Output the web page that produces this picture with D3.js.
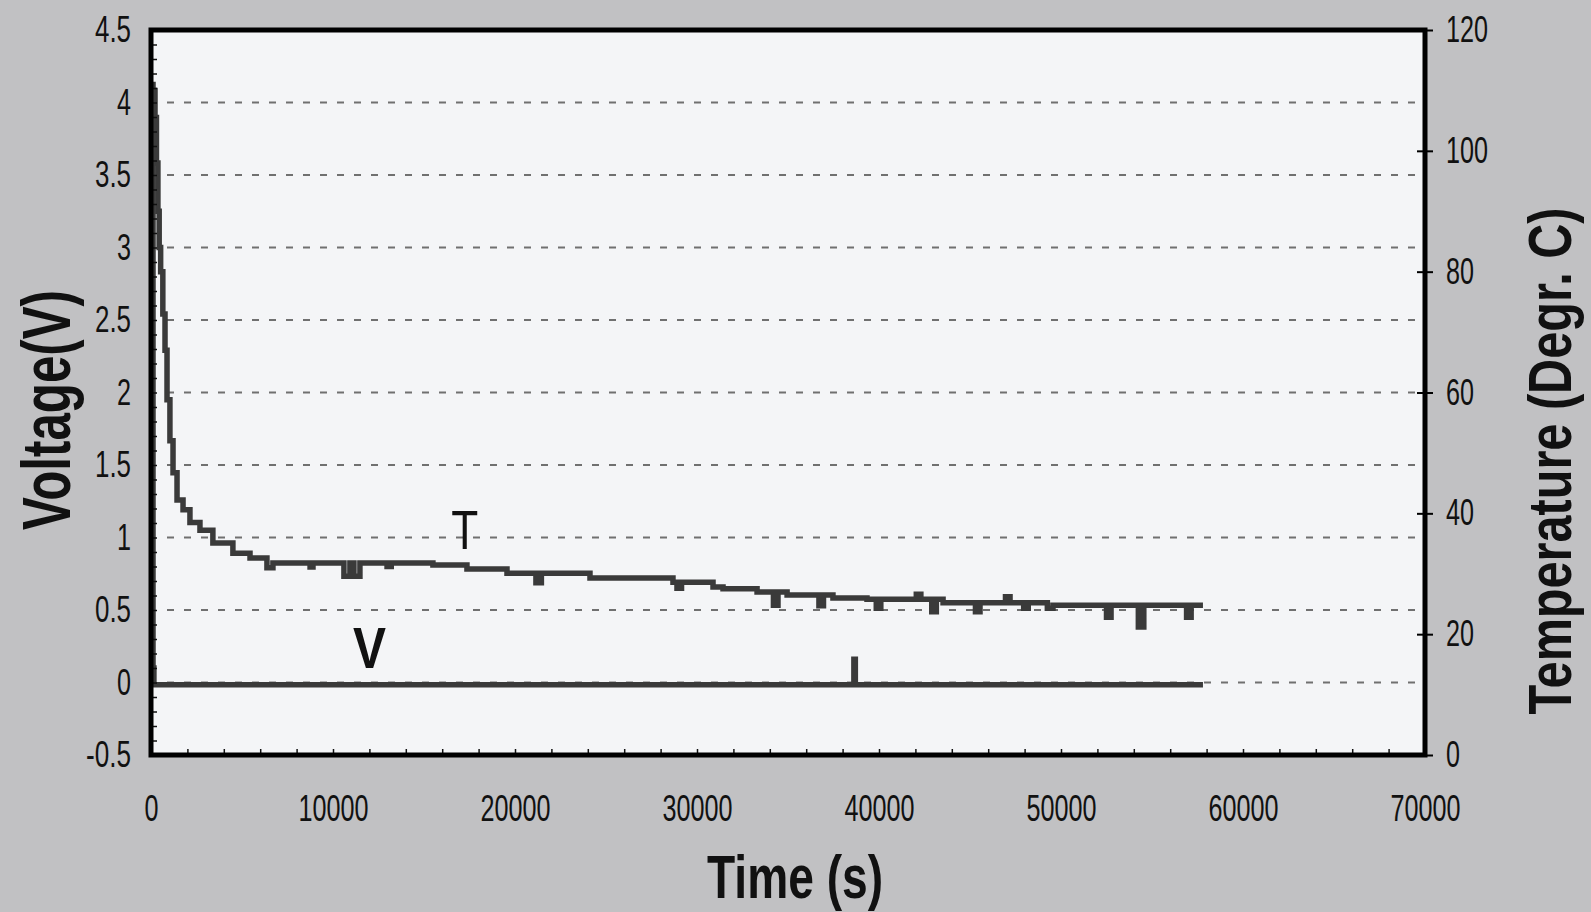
<!DOCTYPE html>
<html>
<head>
<meta charset="utf-8">
<script src="https://cdn.jsdelivr.net/npm/d3@7"></script>
<style>
  body { margin: 0; background: #c1c1c3; }
  svg { display: block; }
</style>
</head>
<body>
<div id="container"></div>
<script>
/* global d3*/

const width = 1591;
const height = 912;
const plotLeft = 151;
const plotRight = 1425;
const plotTop = 30;
const plotBottom = 755;

// temperature trace "T" (time in s, degr. C)
const timeT = [0, 110, 220, 300, 380, 450, 530, 650, 770, 880, 1040, 1210, 1430,
  1760, 2140, 2690, 3400, 4500, 5440, 6370, 6700, 8740, 8900, 10600, 10930,
  11150, 11480, 12970, 13200, 15490, 17360, 19560, 21150, 21450, 24120, 28680,
  28900, 29150, 30880, 31430, 33300, 34200, 34450, 34950, 36700, 36950, 37470,
  39340, 39850, 40100, 42050, 42300, 42900, 43150, 43520, 45300, 45550, 46950,
  47200, 47950, 48200, 49250, 49560, 52500, 52750, 54250, 54550, 56900, 57150,
  57800];
const tempT = [111, 110, 105.5, 98, 90, 84, 80, 73, 67, 58.8, 52, 46.7, 42.2,
  40.6, 38.5, 37.2, 35.1, 33.4, 32.6, 31, 31.8, 31.1, 31.8, 29.6, 31.8,
  29.6, 31.8, 31.2, 31.8, 31.45, 30.8, 30.1, 28.5, 30.1, 29.3, 28.6,
  27.6, 28.6, 27.8, 27.5, 27, 24.8, 27, 26.5, 24.7, 26.5, 26,
  25.8, 24.3, 25.8, 26.6, 25.8, 23.7, 25.8, 25.2, 23.7, 25.2, 26.2,
  25.2, 24.3, 25.2, 24.3, 24.8, 22.8, 24.8, 21.2, 24.8, 22.8, 24.8,
  24.8];

// voltage trace "V" (time in s, volts)
const timeV = [0, 60, 110, 160, 38550, 38620, 38700, 57800];
const voltV = [4.1, 4.0, 0.1, -0.015, -0.015, 0.16, -0.015, -0.015];

// tick labels
const xTicks = [0, 10000, 20000, 30000, 40000, 50000, 60000, 70000];
const voltTicks = [-0.5, 0, 0.5, 1, 1.5, 2, 2.5, 3, 3.5, 4, 4.5];
const tempTicks = [0, 20, 40, 60, 80, 100, 120];
const gridVolts = [0, 0.5, 1, 1.5, 2, 2.5, 3, 3.5, 4];

const narrow = "'Liberation Sans Narrow', 'Arial Narrow', 'Liberation Sans', Arial, sans-serif";
const ink = "#3a3a3a";

// width of a condensed tick label
const labelWidth = (s) =>
  [...s].reduce((w, c) => w + (c === "." ? 8 : c === "-" ? 9 : 14), 0);

//create svg
const svg = d3
  .select("#container")
  .append("svg")
  .attr("width", width)
  .attr("height", height);

svg.append("rect")
  .attr("width", width)
  .attr("height", height)
  .attr("fill", "#c1c1c3");

const xScale = d3.scaleLinear([0, 70000], [plotLeft, plotRight]);
const yVolt = d3.scaleLinear([-0.5, 4.5], [plotBottom, plotTop]);
const yTemp = d3.scaleLinear([0, 120], [plotBottom, plotTop]);

// plot area
svg.append("rect")
  .attr("x", plotLeft)
  .attr("y", plotTop)
  .attr("width", plotRight - plotLeft)
  .attr("height", plotBottom - plotTop)
  .attr("fill", "#f4f5f7");

// dashed gridlines on the voltage axis
svg.append("g")
  .selectAll("line")
  .data(gridVolts)
  .join("line")
  .attr("x1", plotLeft + 16)
  .attr("x2", plotRight - 4)
  .attr("y1", (d) => yVolt(d))
  .attr("y2", (d) => yVolt(d))
  .attr("stroke", "#707070")
  .attr("stroke-width", 1.8)
  .attr("stroke-dasharray", "7,10");

// traces - stepped like the logger plot
const lineT = d3.line()
  .x((d) => xScale(d[0]))
  .y((d) => yTemp(d[1]))
  .curve(d3.curveStepAfter);
const lineV = d3.line()
  .x((d) => xScale(d[0]))
  .y((d) => yVolt(d[1]))
  .curve(d3.curveStepAfter);

svg.append("path")
  .datum(d3.zip(timeV, voltV))
  .attr("d", lineV)
  .attr("fill", "none")
  .attr("stroke", ink)
  .attr("stroke-width", 5.5);

svg.append("path")
  .datum(d3.zip(timeT, tempT))
  .attr("d", lineT)
  .attr("fill", "none")
  .attr("stroke", ink)
  .attr("stroke-width", 5.5);

// minor ticks, pointing inwards
const minorLeft = svg.append("g")
  .attr("transform", `translate(${plotLeft},0)`)
  .call(d3.axisLeft(yVolt).tickValues(d3.range(-0.4, 4.45, 0.1)).tickSize(-6).tickFormat(""));
const minorBottom = svg.append("g")
  .attr("transform", `translate(0,${plotBottom})`)
  .call(d3.axisBottom(xScale).tickValues(d3.range(2000, 70000, 2000)).tickSize(-6).tickFormat(""));
[minorLeft, minorBottom].forEach((g) => {
  g.select(".domain").remove();
  g.selectAll("line").attr("stroke", "#111").attr("stroke-width", 1.5);
});

// frame
svg.append("rect")
  .attr("x", plotLeft)
  .attr("y", plotTop)
  .attr("width", plotRight - plotLeft)
  .attr("height", plotBottom - plotTop)
  .attr("fill", "none")
  .attr("stroke", "#000")
  .attr("stroke-width", 5);

// left axis labels (voltage)
const yAx = svg.append("g")
  .attr("transform", `translate(${plotLeft},0)`)
  .call(d3.axisLeft(yVolt).tickValues(voltTicks).tickSize(0).tickPadding(20)
    .tickFormat((d) => String(d)));

// bottom axis labels (time)
const xAx = svg.append("g")
  .attr("transform", `translate(0,${plotBottom})`)
  .call(d3.axisBottom(xScale).tickValues(xTicks).tickSize(0).tickPadding(40)
    .tickFormat((d) => String(d)));

// right axis (temperature), ticks cross the frame
const tAx = svg.append("g")
  .attr("transform", `translate(${plotRight},0)`)
  .call(d3.axisRight(yTemp).tickValues(tempTicks).tickSize(8).tickPadding(13)
    .tickFormat((d) => String(d)));
tAx.selectAll("line").attr("x1", -8).attr("stroke", "#000").attr("stroke-width", 2);

[yAx, xAx, tAx].forEach((g) => {
  g.select(".domain").remove();
  g.selectAll("text")
    .attr("fill", "#111")
    .style("font-family", narrow)
    .style("font-size", "36px")
    .attr("textLength", function () { return labelWidth(this.textContent); })
    .attr("lengthAdjust", "spacingAndGlyphs");
});

// axis titles
svg.append("text")
  .attr("transform", `translate(70,410) rotate(-90)`)
  .attr("text-anchor", "middle")
  .attr("textLength", 240)
  .attr("lengthAdjust", "spacingAndGlyphs")
  .style("font-family", narrow)
  .style("font-weight", "bold")
  .style("font-size", "68px")
  .attr("fill", "#111")
  .text("Voltage(V)");

svg.append("text")
  .attr("x", 795)
  .attr("y", 898)
  .attr("text-anchor", "middle")
  .attr("textLength", 176)
  .attr("lengthAdjust", "spacingAndGlyphs")
  .style("font-family", narrow)
  .style("font-weight", "bold")
  .style("font-size", "62px")
  .attr("fill", "#111")
  .text("Time (s)");

svg.append("text")
  .attr("transform", `translate(1571,461) rotate(-90)`)
  .attr("text-anchor", "middle")
  .attr("textLength", 507)
  .attr("lengthAdjust", "spacingAndGlyphs")
  .style("font-family", narrow)
  .style("font-weight", "bold")
  .style("font-size", "62px")
  .attr("fill", "#111")
  .text("Temperature (Degr. C)");

// trace annotations
svg.append("text")
  .attr("x", xScale(16500))
  .attr("y", yVolt(0.92))
  .attr("textLength", 27)
  .attr("lengthAdjust", "spacingAndGlyphs")
  .style("font-family", narrow)
  .style("font-size", "56px")
  .attr("fill", "#111")
  .text("T");

svg.append("text")
  .attr("x", xScale(11100))
  .attr("y", yVolt(0.1))
  .attr("textLength", 33)
  .attr("lengthAdjust", "spacingAndGlyphs")
  .style("font-family", narrow)
  .style("font-weight", "bold")
  .style("font-size", "58px")
  .attr("fill", "#111")
  .text("V");
</script>
</body>
</html>
